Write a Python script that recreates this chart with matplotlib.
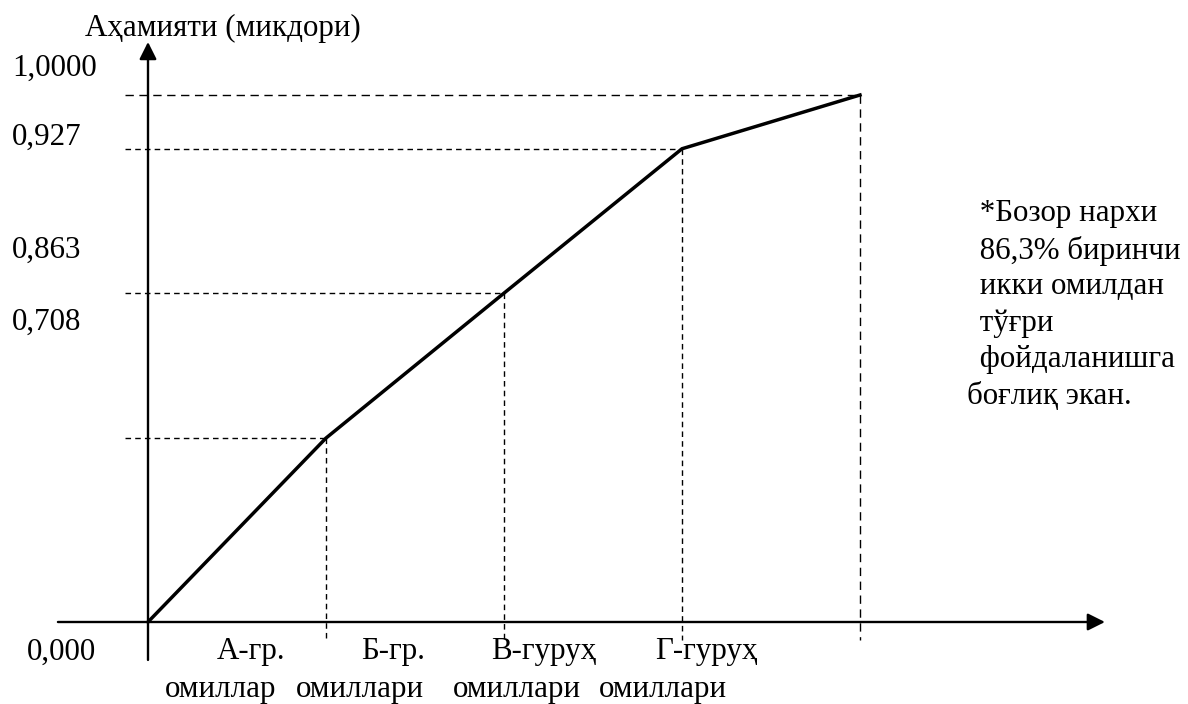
import matplotlib.pyplot as plt

# points of the broken line: group index on x, share on y
groups = [0, 1, 2, 3, 4]
values = [0.0, 0.349, 0.624, 0.898, 1.0]

y_labels = ["1,0000", "0,927", "0,863", "0,708"]
cat_top = ["А-гр.", "Б-гр.", "В-гуруҳ", "Г-гуруҳ"]
cat_bottom = ["омиллар", "омиллари", "омиллари", "омиллари"]
note_lines = [" *Бозор нархи", " 86,3% биринчи", " икки омилдан", " тўғри",
              " фойдаланишга", "боғлиқ экан."]

W, H = 1188, 704
fam = ["Liberation Serif", "DejaVu Serif"]
fs = 22.3

fig = plt.figure(figsize=(W / 100, H / 100), dpi=100)
ax = fig.add_axes([0, 0, 1, 1])
ax.set_xlim(-148 / 178, (W - 148) / 178)
ax.set_ylim(-82 / 527, (H - 82) / 527)
ax.axis("off")


def px(x, y):
    # pixel (from top-left) to figure fraction
    return x / W, 1 - y / H


# axes with arrows
ax.annotate("", xy=(5.376, 0), xytext=(-0.506, 0),
            arrowprops=dict(arrowstyle="-|>", lw=1.7, color="black",
                            mutation_scale=26, shrinkA=0, shrinkB=0))
ax.annotate("", xy=(0, 1.1006), xytext=(0, -0.072),
            arrowprops=dict(arrowstyle="-|>", lw=1.7, color="black",
                            mutation_scale=26, shrinkA=0, shrinkB=0))

# dashed guide lines
for i, (gx, gy) in enumerate(zip(groups[1:], values[1:])):
    last = i == len(groups) - 2
    dash = (6, 4) if last else (4, 3)
    ax.plot([-0.129, gx], [gy, gy], color="black", lw=1.0, dashes=dash)
    ax.plot([gx, gx], [gy, -0.034], color="black", lw=1.0, dashes=dash)

ax.plot(groups, values, color="black", lw=2.5, solid_joinstyle="miter")

# texts
fig.text(*px(85, 28), "Аҳамияти (микдори)", family=fam, fontsize=fs, va="center")
for lab, yy in zip(y_labels, [68, 137, 250, 322]):
    fig.text(*px(12, yy), lab, family=fam, fontsize=fs, va="center")
fig.text(*px(27, 652), "0,000", family=fam, fontsize=fs, va="center")

for lab, xx in zip(cat_top, [251, 393, 544, 706]):
    fig.text(*px(xx, 652), lab, family=fam, fontsize=fs, va="center", ha="center")
for lab, xx in zip(cat_bottom, [221, 360, 517, 663]):
    fig.text(*px(xx, 690), lab, family=fam, fontsize=fs, va="center", ha="center")

for k, line in enumerate(note_lines):
    fig.text(*px(967 if k == 5 else 972, 214 + k * 36.5), line, family=fam,
             fontsize=fs, va="center")

fig.savefig("out.png", dpi=100)
